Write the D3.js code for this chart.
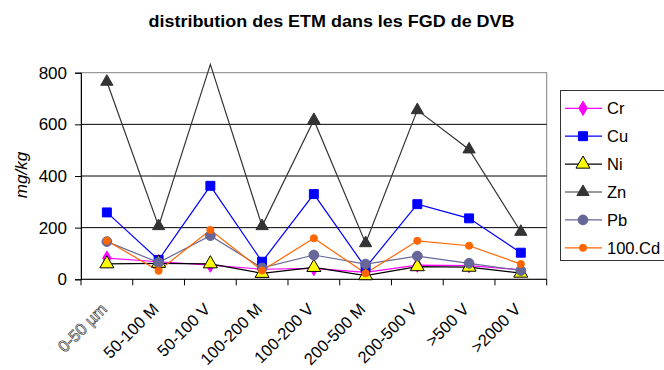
<!DOCTYPE html>
<html>
<head>
<meta charset="utf-8">
<script src="https://cdn.jsdelivr.net/npm/d3@7"></script>
<style>
  html, body { margin: 0; padding: 0; background: #fff; }
  svg { display: block; font-family: "Liberation Sans", Arial, sans-serif; }
</style>
</head>
<body>
<svg id="chart" width="664" height="370"></svg>
<script>
// Fractions (size class + M/V) along the x axis
const categories = ["0-50 µm", "50-100 M", "50-100 V", "100-200 M", "100-200 V",
                    "200-500 M", "200-500 V", ">500 V", ">2000 V"];

// Trace-metal concentrations, mg/kg (Cd multiplied by 100)
const cr = [82, 68, 55, 39, 42, 27, 55, 53, 37];
const cu = [259, 75, 362, 68, 330, 45, 291, 236, 103];
const ni = [60, 62, 60, 23, 46, 14, 49, 47, 24];
const zn = [765, 206, 832, 206, 617, 140, 655, 503, 184];
const pb = [146, 65, 169, 44, 94, 59, 90, 62, 34];
const cd100 = [149, 33, 191, 34, 159, 23, 149, 130, 59];

const yTicks = [0, 200, 400, 600, 800];

const series = [
  { name: "Cr",     values: cr,    line: "#ff00ff", symbol: d3.symbolDiamond,  size: 60, fill: "#ff00ff", stroke: "#ff00ff" },
  { name: "Cu",     values: cu,    line: "#0000ff", symbol: d3.symbolSquare,   size: 80, fill: "#0000ff", stroke: "#0000ff" },
  { name: "Ni",     values: ni,    line: "#000000", symbol: d3.symbolTriangle, size: 85, fill: "#ffff00", stroke: "#000000" },
  { name: "Zn",     values: zn,    line: "#333333", symbol: d3.symbolTriangle, size: 65, fill: "#333333", stroke: "#333333" },
  { name: "Pb",     values: pb,    line: "#666699", symbol: d3.symbolCircle,   size: 75, fill: "#666699", stroke: "#666699" },
  { name: "100.Cd", values: cd100, line: "#ff6600", symbol: d3.symbolCircle,   size: 40, fill: "#ff6600", stroke: "#ff6600" }
];

const svg = d3.select("#chart");
const plot = { left: 81, right: 546.7, top: 72.7, bottom: 279.3 };

const x = d3.scaleBand().domain(categories).range([plot.left, plot.right]).padding(0);
const y = d3.scaleLinear().domain([0, 800]).range([plot.bottom, plot.top]);
const cx = d => x(d) + x.bandwidth() / 2;

// Title
svg.append("text")
  .attr("x", 331.5).attr("y", 27)
  .attr("text-anchor", "middle")
  .attr("font-weight", "bold")
  .attr("font-size", 17)
  .attr("textLength", 366)
  .attr("lengthAdjust", "spacingAndGlyphs")
  .attr("fill", "#000")
  .text("distribution des ETM dans les FGD de DVB");

// Plot background and border
svg.append("rect")
  .attr("x", plot.left).attr("y", plot.top)
  .attr("width", plot.right - plot.left).attr("height", plot.bottom - plot.top)
  .attr("fill", "#fff").attr("stroke", "#808080").attr("stroke-width", 1);

// Horizontal gridlines
svg.append("g")
  .selectAll("line")
  .data(yTicks.filter(t => t > 0 && t < 800))
  .join("line")
  .attr("x1", plot.left).attr("x2", plot.right)
  .attr("y1", d => y(d)).attr("y2", d => y(d))
  .attr("stroke", "#000").attr("stroke-width", 1);

// Y axis
const yAxis = svg.append("g")
  .attr("transform", `translate(${plot.left},0)`)
  .call(d3.axisLeft(y).tickValues(yTicks).tickSize(6).tickPadding(8).tickFormat(d3.format("d")));
yAxis.select(".domain").attr("stroke", "#000");
yAxis.selectAll(".tick line").attr("stroke", "#000");
yAxis.selectAll(".tick text")
  .attr("font-size", 17).attr("fill", "#000")
  .attr("font-family", "Liberation Sans, Arial, sans-serif");

// X axis: ticks at category boundaries
const xAxis = svg.append("g").attr("transform", `translate(0,${plot.bottom})`);
xAxis.append("line")
  .attr("x1", plot.left).attr("x2", plot.right)
  .attr("y1", 0).attr("y2", 0).attr("stroke", "#000");
const bounds = categories.map(c => x(c)).concat([plot.right]);
xAxis.selectAll("line.tk")
  .data(bounds)
  .join("line")
  .attr("class", "tk")
  .attr("x1", d => d).attr("x2", d => d)
  .attr("y1", 0).attr("y2", 6)
  .attr("stroke", "#000");
xAxis.selectAll("text.lbl")
  .data(categories)
  .join("text")
  .attr("class", "lbl")
  .attr("transform", d => `translate(${cx(d) + 1},${31}) rotate(-45)`)
  .attr("text-anchor", "end")
  .attr("font-size", 16.5)
  .attr("fill", (d, i) => i === 0 ? "#fff" : "#000")
  .attr("stroke", (d, i) => i === 0 ? "#444" : "none")
  .attr("stroke-width", 0.7)
  .text(d => d);

// Y axis title
svg.append("text")
  .attr("transform", "translate(27,175) rotate(-90)")
  .attr("text-anchor", "middle")
  .attr("font-style", "italic")
  .attr("font-size", 17)
  .attr("fill", "#000")
  .text("mg/kg");

// Lines and markers
const line = d3.line().x((d, i) => cx(categories[i])).y(d => y(d));

svg.append("defs").append("clipPath").attr("id", "plotClip")
  .append("rect")
  .attr("x", plot.left - 10).attr("y", plot.top)
  .attr("width", plot.right - plot.left + 20).attr("height", plot.bottom - plot.top + 10);

const gSeries = svg.append("g");
series.forEach(s => {
  gSeries.append("path")
    .attr("d", line(s.values))
    .attr("fill", "none")
    .attr("stroke", s.line)
    .attr("stroke-width", 1.2);
});
series.forEach(s => {
  gSeries.append("g")
    .attr("clip-path", "url(#plotClip)")
    .selectAll("path")
    .data(s.values)
    .join("path")
    .attr("transform", (d, i) => `translate(${cx(categories[i])},${y(d)})`)
    .attr("d", d3.symbol().type(s.symbol).size(s.size))
    .attr("fill", s.fill)
    .attr("stroke", s.stroke)
    .attr("stroke-width", 1);
});

// Legend
const legend = svg.append("g");
legend.append("rect")
  .attr("x", 560.5).attr("y", 90.5)
  .attr("width", 110).attr("height", 170)
  .attr("fill", "#fff").attr("stroke", "#333").attr("stroke-width", 1);
series.forEach((s, i) => {
  const ly = 108.3 + i * 27.9;
  const g = legend.append("g");
  g.append("line")
    .attr("x1", 565).attr("x2", 602).attr("y1", ly).attr("y2", ly)
    .attr("stroke", s.line).attr("stroke-width", 1.2);
  g.append("path")
    .attr("transform", `translate(583,${ly})`)
    .attr("d", d3.symbol().type(s.symbol).size(s.size))
    .attr("fill", s.fill).attr("stroke", s.stroke).attr("stroke-width", 1);
  g.append("text")
    .attr("x", 607).attr("y", ly).attr("dy", "0.36em")
    .attr("font-size", 16.5).attr("fill", "#000")
    .text(s.name);
});
</script>
</body>
</html>
